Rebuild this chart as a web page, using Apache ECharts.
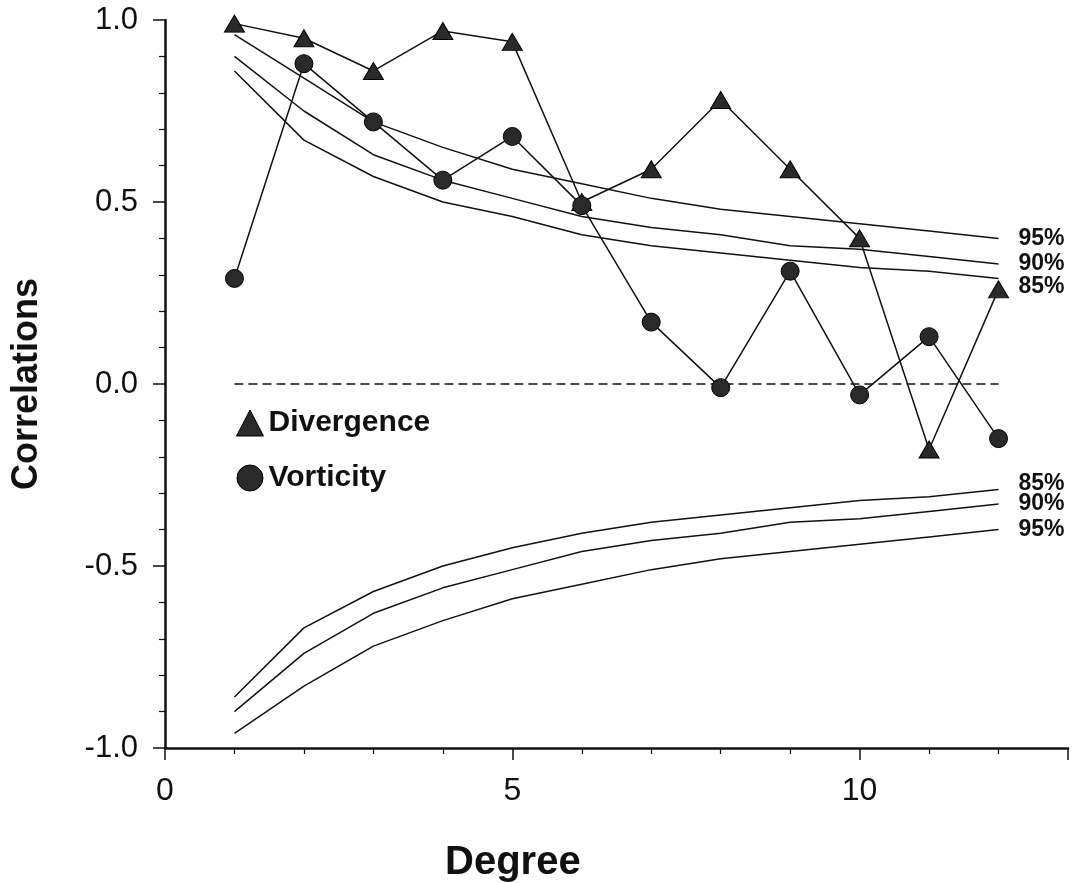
<!DOCTYPE html>
<html>
<head>
<meta charset="utf-8">
<script src="https://cdn.jsdelivr.net/npm/echarts@6/dist/echarts.min.js"></script>
<style>
html,body{margin:0;padding:0;background:#fff;}
#chart{width:1077px;height:883px;}
</style>
</head>
<body>
<div id="chart"></div>
<script>
const degrees = [1,2,3,4,5,6,7,8,9,10,11,12];
const divergence = [0.99,0.95,0.86,0.97,0.94,0.50,0.59,0.78,0.59,0.40,-0.18,0.26];
const vorticity = [0.29,0.88,0.72,0.56,0.68,0.49,0.17,-0.01,0.31,-0.03,0.13,-0.15];
const upper95 = [0.96,0.84,0.72,0.65,0.59,0.55,0.51,0.48,0.46,0.44,0.42,0.40];
const upper90 = [0.90,0.75,0.63,0.56,0.51,0.46,0.43,0.41,0.38,0.37,0.35,0.33];
const upper85 = [0.86,0.67,0.57,0.50,0.46,0.41,0.38,0.36,0.34,0.32,0.31,0.29];
const lower85 = [-0.86,-0.67,-0.57,-0.50,-0.45,-0.41,-0.38,-0.36,-0.34,-0.32,-0.31,-0.29];
const lower90 = [-0.90,-0.74,-0.63,-0.56,-0.51,-0.46,-0.43,-0.41,-0.38,-0.37,-0.35,-0.33];
const lower95 = [-0.96,-0.83,-0.72,-0.65,-0.59,-0.55,-0.51,-0.48,-0.46,-0.44,-0.42,-0.40];
const zeroLine = [0,0];
const zeroX = [1,12];
const yTickLabels = {'1':'1.0','0.5':'0.5','0':'0.0','-0.5':'-0.5','-1':'-1.0'};

const pair = (xs, ys) => xs.map((x,i)=>[x, ys[i]]);
const FONT = '"Liberation Sans", Arial, Helvetica, sans-serif';
const INK = '#111';

function sigLine(name, data, dy) {
  return {
    name: name, type: 'line', data: pair(degrees, data), symbol: 'none',
    lineStyle: {color: INK, width: 1.5}, silent: true, z: 2,
    endLabel: {show: true, formatter: name, distance: 20, offset: [0, dy],
      color: INK, fontFamily: FONT, fontSize: 23, fontWeight: 'bold'}
  };
}

const chart = echarts.init(document.getElementById('chart'), null, {renderer: 'canvas'});
chart.setOption({
  animation: false,
  backgroundColor: '#fff',
  grid: {left: 165, right: 9, top: 20, bottom: 135, containLabel: false, outerBoundsMode: 'none'},
  title: {text: 'Degree', left: 440, top: 838,
    textStyle: {fontFamily: FONT, fontSize: 40, fontWeight: 'bold', color: INK}},
  legend: {
    orient: 'vertical', left: 231, top: 403, itemWidth: 27, itemHeight: 26, itemGap: 25,
    textStyle: {fontFamily: FONT, fontSize: 30, fontWeight: 'bold', color: INK, lineHeight: 26},
    data: [
      {name: 'Divergence', icon: 'triangle', itemStyle: {color: '#2a2a2a', borderColor: '#000', borderWidth: 1}},
      {name: 'Vorticity', icon: 'circle', itemStyle: {color: '#2a2a2a', borderColor: '#000', borderWidth: 1}}
    ]
  },
  xAxis: {
    type: 'value', min: 0, max: 13, interval: 5,
    axisLine: {onZero: false, lineStyle: {color: INK, width: 2.5}},
    axisTick: {show: true, length: 12, lineStyle: {color: INK, width: 1.5}},
    minorTick: {show: true, splitNumber: 5, length: 6, lineStyle: {color: INK, width: 1.2}},
    splitLine: {show: false},
    axisLabel: {fontFamily: FONT, fontSize: 32, color: INK, margin: 27, showMaxLabel: false}
  },
  yAxis: {
    type: 'value', min: -1, max: 1, interval: 0.5,
    name: 'Correlations', nameLocation: 'middle', nameGap: 120, nameRotate: 90,
    nameTextStyle: {fontFamily: FONT, fontSize: 36, fontWeight: 'bold', color: INK},
    axisLine: {show: true, onZero: false, lineStyle: {color: INK, width: 2.5}},
    axisTick: {show: true, length: 12, lineStyle: {color: INK, width: 1.5}},
    minorTick: {show: true, splitNumber: 5, length: 6, lineStyle: {color: INK, width: 1.2}},
    splitLine: {show: false},
    axisLabel: {fontFamily: FONT, fontSize: 31, color: INK, margin: 27,
      formatter: v => yTickLabels[String(v)] !== undefined ? yTickLabels[String(v)] : v.toFixed(1)}
  },
  series: [
    sigLine('95%', upper95, 0),
    sigLine('90%', upper90, 0),
    sigLine('85%', upper85, 8),
    sigLine('85%', lower85, -6),
    sigLine('90%', lower90, 0),
    sigLine('95%', lower95, 0),
    {
      name: 'zero', type: 'line', data: pair(zeroX, zeroLine), symbol: 'none', silent: true,
      lineStyle: {color: INK, width: 1.5, type: [9, 5]}, z: 2
    },
    {
      name: 'Divergence', type: 'line', data: pair(degrees, divergence),
      symbol: 'triangle', symbolSize: [20, 17], showAllSymbol: true,
      lineStyle: {color: INK, width: 1.5},
      itemStyle: {color: '#2a2a2a', borderColor: '#000', borderWidth: 1}, z: 3
    },
    {
      name: 'Vorticity', type: 'line', data: pair(degrees, vorticity),
      symbol: 'circle', symbolSize: 18, showAllSymbol: true,
      lineStyle: {color: INK, width: 1.5},
      itemStyle: {color: '#2a2a2a', borderColor: '#000', borderWidth: 1}, z: 4
    }
  ]
});
</script>
</body>
</html>
